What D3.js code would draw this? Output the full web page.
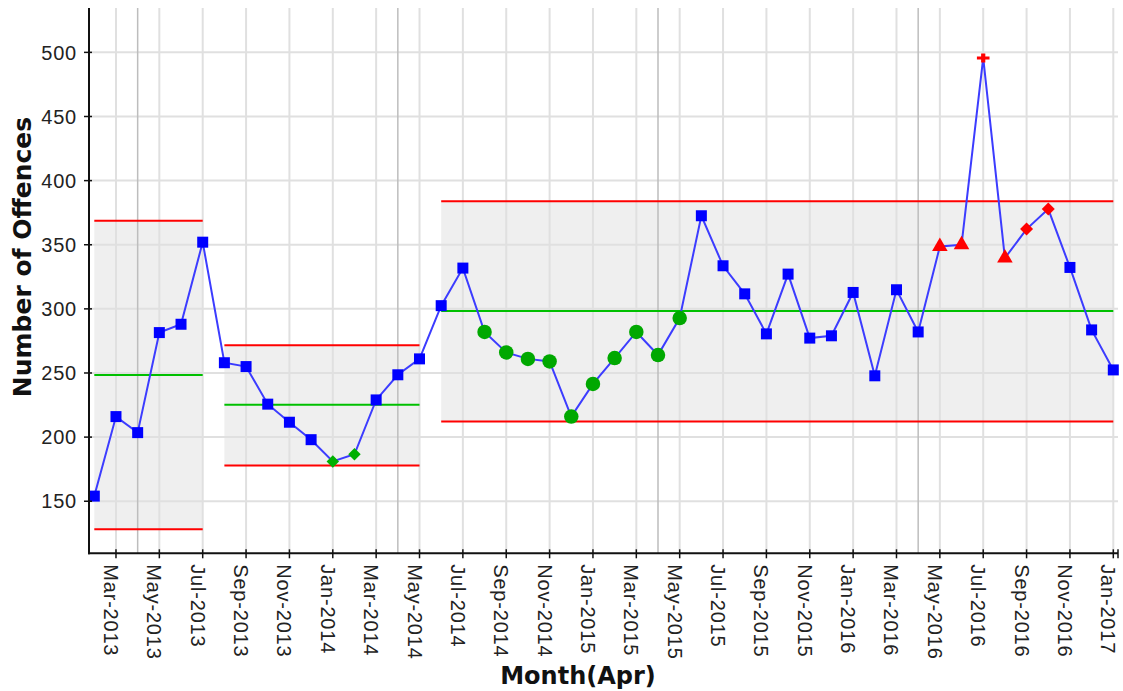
<!DOCTYPE html>
<html><head><meta charset="utf-8">
<script src="https://cdn.jsdelivr.net/npm/d3@7"></script>
<style>
html,body{margin:0;padding:0;background:#fff;}
svg{display:block;}
</style></head>
<body>
<svg id="chart" width="1123" height="691"></svg>
<script>
// ---- data ----
const months = [
 "Feb-2013","Mar-2013","Apr-2013","May-2013","Jun-2013","Jul-2013","Aug-2013","Sep-2013","Oct-2013","Nov-2013","Dec-2013",
 "Jan-2014","Feb-2014","Mar-2014","Apr-2014","May-2014","Jun-2014","Jul-2014","Aug-2014","Sep-2014","Oct-2014","Nov-2014","Dec-2014",
 "Jan-2015","Feb-2015","Mar-2015","Apr-2015","May-2015","Jun-2015","Jul-2015","Aug-2015","Sep-2015","Oct-2015","Nov-2015","Dec-2015",
 "Jan-2016","Feb-2016","Mar-2016","Apr-2016","May-2016","Jun-2016","Jul-2016","Aug-2016","Sep-2016","Oct-2016","Nov-2016","Dec-2016",
 "Jan-2017"];
const offences = [
 154,216,203.5,281.5,288,352,258,255,225.7,211.6,198,
 181,186.6,229,248.6,261,302.5,331.8,282,266,261,259,216,
 241.5,261.6,282,264,292.8,372.6,333.6,311.7,280.5,327.1,277.2,279,
 312.8,247.8,314.9,282,348.6,350,495.7,339.6,362.2,377.8,332.3,283.6,
 252.4];
// marker type for each point
const markerTypes = [
 "square","square","square","square","square","square","square","square","square","square","square",
 "gdiamond","gdiamond","square","square","square","square","square","circle","circle","circle","circle","circle",
 "circle","circle","circle","circle","circle","square","square","square","square","square","square","square",
 "square","square","square","square","triangle","triangle","star","triangle","rdiamond","rdiamond","square","square",
 "square"];
// phases: first index, last index, UCL, CL, LCL
const phaseStart = [0, 6, 16];
const phaseEnd   = [5, 15, 47];
const phaseUCL   = [368.7, 271.7, 384];
const phaseCL    = [248.5, 225.2, 298.3];
const phaseLCL   = [128.2, 177.8, 212.1];
const yTicks = [150,200,250,300,350,400,450,500];
const aprilLines = ["Apr-2013","Apr-2014","Apr-2015","Apr-2016"];

// ---- layout ----
const svg = d3.select("#chart");
const L = 89, R = 1118, T = 8, B = 553.3;
const x = d3.scaleLinear().domain([0, months.length - 1]).range([94.3, 1113.3]);
const y = d3.scaleLinear().domain([109.4, 534.6]).range([B, T]);
const xTickIdx = months.map((m,i)=>i).filter(i => i % 2 === 1);

// phase shading
const g = svg.append("g");
g.selectAll("rect.phase").data(phaseStart).join("rect")
 .attr("x", (d,i)=>x(d)).attr("width",(d,i)=>x(phaseEnd[i])-x(d))
 .attr("y",(d,i)=>y(phaseUCL[i])).attr("height",(d,i)=>y(phaseLCL[i])-y(phaseUCL[i]))
 .attr("fill","#efefef");

// grid
g.selectAll("line.hg").data(yTicks).join("line")
 .attr("x1",L).attr("x2",R).attr("y1",d=>y(d)).attr("y2",d=>y(d))
 .attr("stroke","#e0e0e0").attr("stroke-width",2);
g.selectAll("line.vg").data(xTickIdx).join("line")
 .attr("x1",d=>x(d)).attr("x2",d=>x(d)).attr("y1",T).attr("y2",B)
 .attr("stroke","#e0e0e0").attr("stroke-width",2);
g.selectAll("line.ap").data(aprilLines).join("line")
 .attr("x1",d=>x(months.indexOf(d))).attr("x2",d=>x(months.indexOf(d))).attr("y1",T).attr("y2",B)
 .attr("stroke","#bdbdbd").attr("stroke-width",1.5);

// control lines
const lim = (arr,col)=> g.append("g").selectAll("line").data(phaseStart).join("line")
 .attr("x1",d=>x(d)).attr("x2",(d,i)=>x(phaseEnd[i]))
 .attr("y1",(d,i)=>y(arr[i])).attr("y2",(d,i)=>y(arr[i]))
 .attr("stroke",col).attr("stroke-width",2);
lim(phaseUCL,"#ff0000"); lim(phaseLCL,"#ff0000"); lim(phaseCL,"#00c000");

// series line
g.append("path").datum(offences)
 .attr("d", d3.line().x((d,i)=>x(i)).y(d=>y(d)))
 .attr("fill","none").attr("stroke","#3c3cff").attr("stroke-width",2);

// markers
const sym = {
 square:   d3.symbol(d3.symbolSquare, 121),
 circle:   d3.symbol(d3.symbolCircle, 165),
 gdiamond: d3.symbol(d3.symbolSquare, 78),
 rdiamond: d3.symbol(d3.symbolSquare, 84),
 triangle: d3.symbol(d3.symbolTriangle, 105),
 star:     d3.symbol(d3.symbolCross, 80)
};
const rot = {square:"", circle:"", gdiamond:" rotate(45)", rdiamond:" rotate(45)", triangle:"", star:" scale(1.05,0.75)"};
const col = {square:"#0000ff",circle:"#00a800",gdiamond:"#00b000",rdiamond:"#ff0000",triangle:"#ff0000",star:"#ff0000"};
g.selectAll("path.m").data(offences).join("path")
 .attr("transform",(d,i)=>`translate(${x(i)},${y(d)})` + rot[markerTypes[i]])
 .attr("d",(d,i)=>sym[markerTypes[i]]())
 .attr("fill",(d,i)=>col[markerTypes[i]]);

// axes
const ax = svg.append("g").attr("fill","#222").style("font-family","'Liberation Sans',Arial,sans-serif")
  .style("font-size","20px").style("letter-spacing","0.8px");
ax.append("line").attr("x1",L).attr("x2",L).attr("y1",T).attr("y2",B+1).attr("stroke","#111").attr("stroke-width",2);
ax.append("line").attr("x1",L-1).attr("x2",R).attr("y1",B).attr("y2",B).attr("stroke","#111").attr("stroke-width",2);
ax.selectAll("line.yt").data(yTicks).join("line")
 .attr("x1",L-5).attr("x2",L+3).attr("y1",d=>y(d)).attr("y2",d=>y(d)).attr("stroke","#111").attr("stroke-width",1.5);
ax.selectAll("text.yl").data(yTicks).join("text")
 .attr("x",L-12).attr("y",d=>y(d)).attr("dy","0.36em").attr("text-anchor","end").text(d=>d);
ax.selectAll("line.xt").data(xTickIdx).join("line")
 .attr("x1",d=>x(d)).attr("x2",d=>x(d)).attr("y1",B-4).attr("y2",B+5).attr("stroke","#111").attr("stroke-width",1.5);
ax.append("line").attr("x1",R).attr("x2",R).attr("y1",B-4).attr("y2",B+5).attr("stroke","#111").attr("stroke-width",1.5);
ax.selectAll("text.xl").data(xTickIdx).join("text")
 .attr("transform",d=>`translate(${x(d)},${B+11}) rotate(90)`)
 .attr("x",0).attr("y",12).attr("text-anchor","start").text(d=>months[d]);

// titles
svg.append("text").attr("transform",`translate(31,257) rotate(-90)`)
 .attr("text-anchor","middle").style("font-family","'DejaVu Sans',Verdana,sans-serif")
 .style("font-weight","bold").style("font-size","25px").attr("fill","#111").text("Number of Offences");
svg.append("text").attr("x",578).attr("y",684)
 .attr("text-anchor","middle").style("font-family","'DejaVu Sans',Verdana,sans-serif")
 .style("font-weight","bold").style("font-size","24px").attr("fill","#111").text("Month(Apr)");
</script>
</body></html>
